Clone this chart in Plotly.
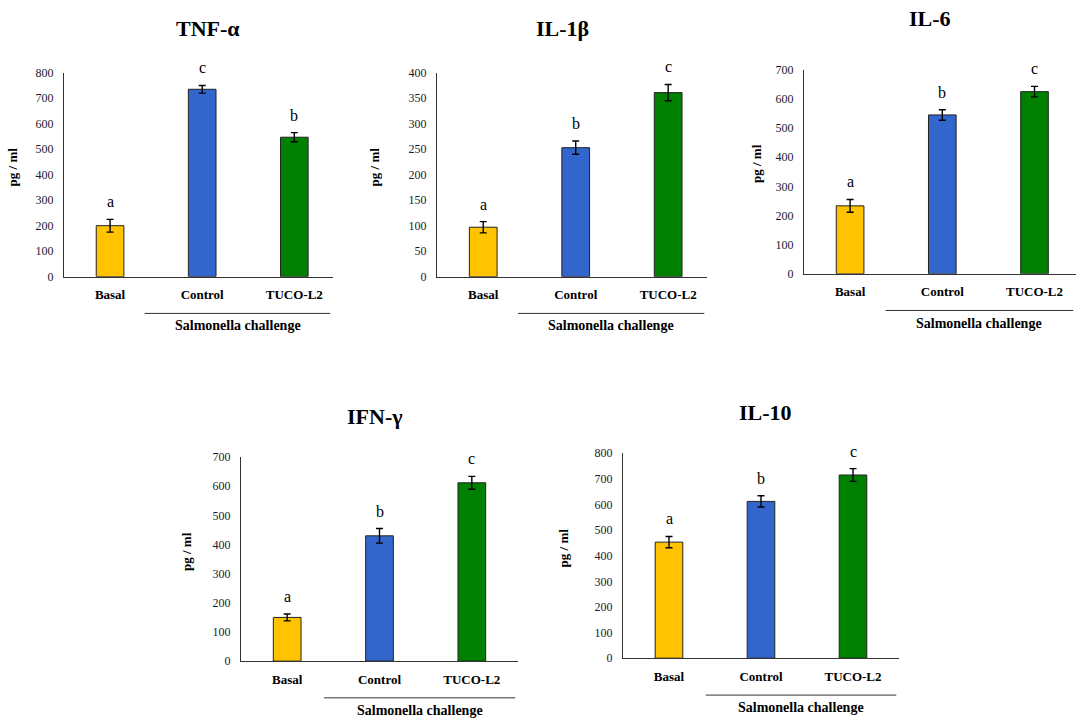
import plotly.graph_objects as go

groups = ['Basal', 'Control', 'TUCO-L2']
bar_colors = ['#FFC300', '#3366CC', '#008000']

titles = ['TNF-α', 'IL-1β', 'IL-6', 'IFN-γ', 'IL-10']
tnf_mean = [200, 735, 547]
tnf_err = [25, 15, 18]
il1b_mean = [97, 253, 361]
il1b_err = [11, 13, 16]
il6_mean = [233, 545, 625]
il6_err = [22, 18, 18]
ifng_mean = [150, 430, 612]
ifng_err = [12, 25, 22]
il10_mean = [453, 612, 715]
il10_err = [22, 22, 25]
letters_tnf = ['a', 'c', 'b']
letters_abc = ['a', 'b', 'c']
y_max = [800, 400, 700, 700, 800]
y_step = [100, 50, 100, 100, 100]

means = [tnf_mean, il1b_mean, il6_mean, ifng_mean, il10_mean]
errs = [tnf_err, il1b_err, il6_err, ifng_err, il10_err]
letters = [letters_tnf, letters_abc, letters_abc, letters_abc, letters_abc]

W, H = 1084, 726
# panel boxes in pixels: left, right, top, bottom, x range end,
# title x (domain), title y (domain), y-title x (domain)
panels = [
    (64, 333, 67, 275, 2.42, 0.535, 1.215, -0.19),
    (437, 707, 67, 275, 2.42, 0.463, 1.215, -0.23),
    (804, 1076, 64, 272, 2.45, 0.463, 1.25, -0.175),
    (241, 518, 459, 667, 2.5, 0.484, 1.20, -0.195),
    (623, 899, 455, 664, 2.5, 0.518, 1.20, -0.214),
]

serif = 'Liberation Serif, Times New Roman, serif'
fig = go.Figure()
annotations = []
shapes = []

for i, (l, r, t, b, xend, tx, ty, ytx) in enumerate(panels):
    n = '' if i == 0 else str(i + 1)
    xa, ya = 'x' + n, 'y' + n
    fig.add_trace(go.Bar(
        x=groups, y=means[i],
        error_y=dict(type='data', array=errs[i], color='black',
                     thickness=1.4, width=3.5),
        marker=dict(color=bar_colors, line=dict(color='#222222', width=1)),
        width=0.3, xaxis=xa, yaxis=ya, showlegend=False,
    ))
    fig.layout['xaxis' + n] = dict(
        domain=[l / W, r / W], anchor=ya, range=[-0.5, xend],
        showline=True, linecolor='#333333', linewidth=1, ticks='',
        showgrid=False, zeroline=False, ticklabelstandoff=6,
        tickfont=dict(family=serif, size=13, color='black', weight='bold'),
    )
    fig.layout['yaxis' + n] = dict(
        domain=[1 - b / H, 1 - t / H], anchor=xa, range=[0, y_max[i]],
        dtick=y_step[i], showline=True, linecolor='#333333', linewidth=1,
        ticks='', showgrid=False, zeroline=False, ticklabelstandoff=7,
        tickfont=dict(family=serif, size=12, color='#1a1a2e'),
    )
    for g, m, e, lt in zip(groups, means[i], errs[i], letters[i]):
        annotations.append(dict(
            x=g, y=m + e, xref=xa, yref=ya, text=lt, showarrow=False,
            yanchor='bottom', yshift=7,
            font=dict(family=serif, size=16, color='black'),
        ))
    annotations.append(dict(
        x=tx, y=ty, xref=xa + ' domain', yref=ya + ' domain', text=titles[i],
        showarrow=False, xanchor='center', yanchor='middle',
        font=dict(family=serif, size=22, color='black', weight='bold'),
    ))
    annotations.append(dict(
        x=ytx, y=0.54, xref=xa + ' domain', yref=ya + ' domain', text='pg / ml',
        textangle=-90, showarrow=False, xanchor='center', yanchor='middle',
        font=dict(family=serif, size=13, color='black', weight='bold'),
    ))
    annotations.append(dict(
        x=0.645, y=-0.195, xref=xa + ' domain', yref=ya + ' domain',
        text='Salmonella challenge', showarrow=False,
        xanchor='center', yanchor='top',
        font=dict(family=serif, size=14, color='black', weight='bold'),
    ))
    shapes.append(dict(
        type='line', xref=xa + ' domain', yref=ya + ' domain',
        x0=0.30, x1=0.99, y0=-0.18, y1=-0.18,
        line=dict(color='#333333', width=1),
    ))

fig.update_layout(
    width=W, height=H, margin=dict(l=0, r=0, t=0, b=0),
    plot_bgcolor='white', paper_bgcolor='white',
    annotations=annotations, shapes=shapes,
)

fig.write_html('out.html', config={'displayModeBar': False},
               post_script="document.body.style.margin='0';")
